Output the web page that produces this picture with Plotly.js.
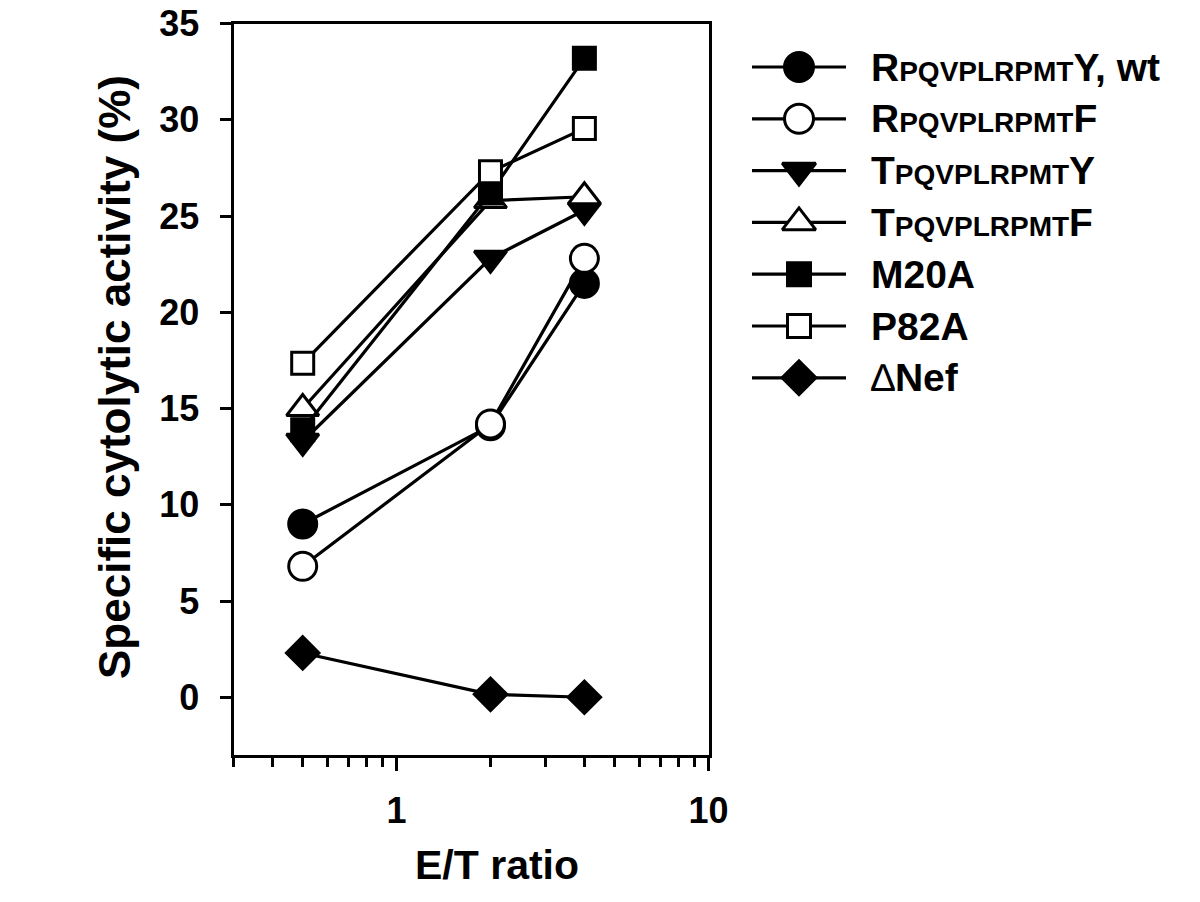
<!DOCTYPE html>
<html><head><meta charset="utf-8">
<script src="https://cdn.plot.ly/plotly-3.0.1.min.js"></script>
<style>html,body{margin:0;padding:0;background:#fff;}#chart{width:1200px;height:902px;}</style>
</head><body><div id="chart"></div>
<script>
// ---- data ----
const etRatio = [0.5, 2, 4];
const seriesLabels = [
  'R<span style="font-size:28px">PQVPLRPMT</span>Y, wt',
  'R<span style="font-size:28px">PQVPLRPMT</span>F',
  'T<span style="font-size:28px">PQVPLRPMT</span>Y',
  'T<span style="font-size:28px">PQVPLRPMT</span>F',
  'M20A',
  'P82A',
  '<span style="font-weight:normal">\u2206</span>Nef'
];
const wtY   = [9.0, 14.1, 21.5];
const rfY   = [6.8, 14.2, 22.8];
const tyY   = [13.3, 22.8, 25.3];
const tfY   = [15.0, 25.8, 26.0];
const m20aY = [13.9, 26.2, 33.2];
const p82aY = [17.35, 27.3, 29.55];
const dNefY = [2.3, 0.15, 0.0];
const yTickVals = [0, 5, 10, 15, 20, 25, 30, 35];
const xTickVals = [1, 10];
const xTickText = ['1', '10'];
const xMinorTickVals = [0.3, 0.4, 0.5, 0.6, 0.7, 0.8, 0.9, 2, 3, 4, 5, 6, 7, 8, 9];

// ---- styles ----
const seriesValues = [wtY, rfY, tyY, tfY, m20aY, p82aY, dNefY];
const seriesStyles = [
  {symbol: 'circle', fill: '#000', size: 28},
  {symbol: 'circle', fill: '#fff', size: 28},
  {symbol: 'triangle-down', fill: '#000', size: 28},
  {symbol: 'triangle-up', fill: '#fff', size: 28},
  {symbol: 'square', fill: '#000', size: 22},
  {symbol: 'square', fill: '#fff', size: 22},
  {symbol: 'diamond', fill: '#000', size: 25}
];

const FONT = 'Liberation Sans, Arial, Helvetica, sans-serif';
const W = 1200, H = 902;
const px = v => v / W;           // pixel -> paper x
const py = v => 1 - v / H;       // pixel -> paper y

const traces = [];
seriesValues.forEach((vals, i) => {
  const st = seriesStyles[i];
  traces.push({
    x: etRatio, y: vals, type: 'scatter', mode: 'lines+markers',
    name: seriesLabels[i], showlegend: false, cliponaxis: false,
    line: {color: '#000', width: 3.2},
    marker: {symbol: st.symbol, size: st.size, color: st.fill, line: {color: '#000', width: 3}},
    xaxis: 'x', yaxis: 'y'
  });
});

// ---- custom legend drawn on an auxiliary pixel-scaled subplot ----
const legX0 = 752, legX1 = 846, legXm = 799, legTextX = 869;
const legY0 = 67, legDY = 51.8;
const annotations = [];
seriesLabels.forEach((lab, i) => {
  const st = seriesStyles[i];
  const yy = legY0 + i * legDY;
  traces.push({
    x: [legX0, legX1], y: [yy, yy], type: 'scatter', mode: 'lines',
    showlegend: false, line: {color: '#000', width: 3.2}, xaxis: 'x2', yaxis: 'y2'
  });
  traces.push({
    x: [legXm], y: [yy], type: 'scatter', mode: 'markers', showlegend: false,
    marker: {symbol: st.symbol, size: st.size + 1, color: st.fill, line: {color: '#000', width: 3}},
    xaxis: 'x2', yaxis: 'y2'
  });
  annotations.push({
    xref: 'x2', yref: 'y2', x: legTextX, y: yy, xanchor: 'left', yanchor: 'middle',
    text: lab, showarrow: false,
    font: {family: FONT, size: 39, color: '#000', weight: 'bold'}
  });
});

// axis titles (placed as annotations for exact positioning)
annotations.push({
  xref: 'paper', yref: 'paper', x: px(497), y: py(865), xanchor: 'center', yanchor: 'middle',
  text: 'E/T ratio', showarrow: false,
  font: {family: FONT, size: 41, color: '#000', weight: 'bold'}
});
annotations.push({
  xref: 'paper', yref: 'paper', x: px(114), y: py(377), xanchor: 'center', yanchor: 'middle',
  text: 'Specific cytolytic activity (%)', textangle: -90, showarrow: false,
  font: {family: FONT, size: 44, color: '#000', weight: 'bold'}
});

const layout = {
  width: W, height: H,
  margin: {l: 0, r: 0, t: 0, b: 0},
  paper_bgcolor: '#fff', plot_bgcolor: '#fff',
  showlegend: false, hovermode: false,
  xaxis: {
    type: 'log', domain: [px(233.5), px(708.5)], range: [Math.log10(0.3), 1],
    anchor: 'y',
    showline: true, linecolor: '#000', linewidth: 3, mirror: true,
    showgrid: false, zeroline: false,
    tickmode: 'array', tickvals: xTickVals, ticktext: xTickText,
    ticks: 'outside', ticklen: 13, tickwidth: 3, tickcolor: '#000',
    ticklabelstandoff: 9,
    tickfont: {family: FONT, size: 36, color: '#000', weight: 'bold'},
    minor: {tickmode: 'array', tickvals: xMinorTickVals, ticks: 'outside', ticklen: 9, tickwidth: 3, tickcolor: '#000', showgrid: false}
  },
  yaxis: {
    domain: [py(755), py(23.5)], range: [-3, 35], anchor: 'x',
    showline: true, linecolor: '#000', linewidth: 3, mirror: true,
    showgrid: false, zeroline: false,
    tickmode: 'array', tickvals: yTickVals,
    ticks: 'outside', ticklen: 11, tickwidth: 3, tickcolor: '#000',
    ticklabelstandoff: 13,
    tickfont: {family: FONT, size: 36, color: '#000', weight: 'bold'}
  },
  xaxis2: {domain: [px(740), 1], range: [740, 1200], anchor: 'y2', visible: false, fixedrange: true},
  yaxis2: {domain: [0, 1], range: [H, 0], anchor: 'x2', visible: false, fixedrange: true},
  annotations: annotations
};

Plotly.newPlot('chart', traces, layout, {displayModeBar: false, staticPlot: true});
</script>
</body></html>
